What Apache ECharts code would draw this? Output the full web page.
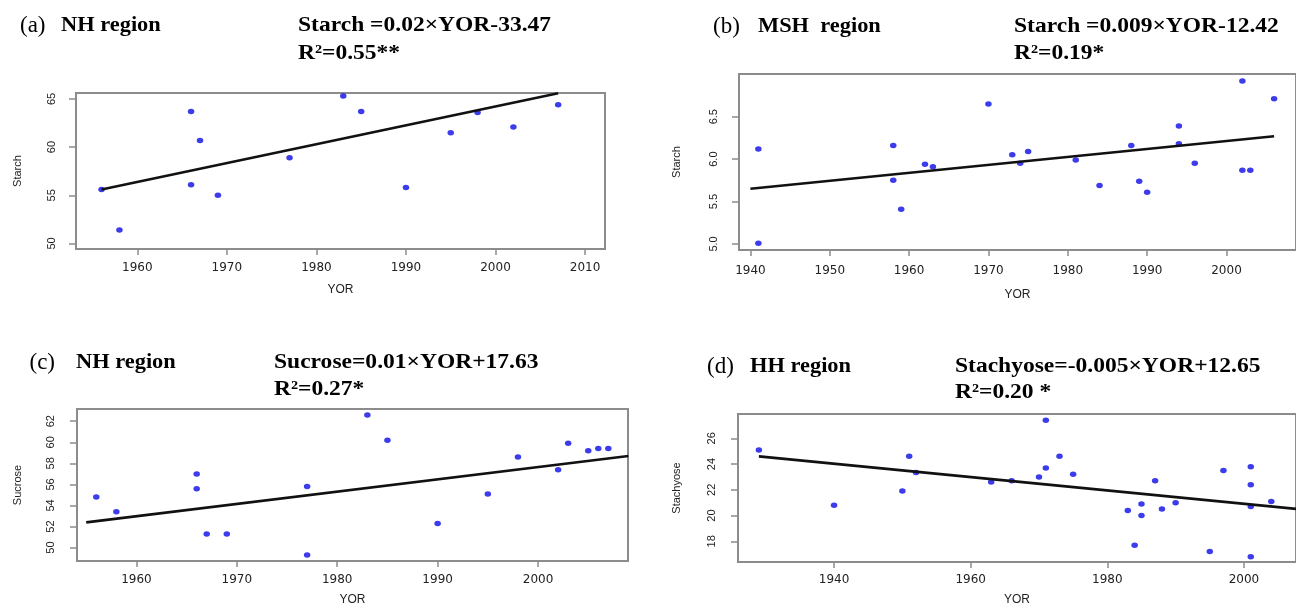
<!DOCTYPE html>
<html><head><meta charset="utf-8">
<script src="https://cdn.jsdelivr.net/npm/echarts@6/dist/echarts.min.js"></script>
<style>html,body{margin:0;padding:0;background:#fff}#c{width:1296px;height:607px}</style>
</head><body><div id="c"></div>
<script>
// ---- data ----
const yorA = [1956,1958,1966,1966,1967,1969,1977,1983,1985,1990,1995,1998,2002,2007];
const starchA = [55.6,51.4,63.7,56.1,60.7,55.0,58.9,65.3,63.7,55.8,61.5,63.6,62.1,64.4];
const trendA = [[1956,55.6],[2007,65.6]];

const yorB = [1941,1941,1958,1958,1959,1962,1963,1970,1973,1974,1975,1981,1984,1988,1989,1990,1994,1994,1996,2002,2002,2003,2006];
const starchB = [6.12,5.01,6.16,5.75,5.41,5.94,5.91,6.65,6.05,5.95,6.09,5.99,5.69,6.16,5.74,5.61,6.39,6.18,5.95,6.92,5.87,5.87,6.71];
const trendB = [[1940,5.65],[2006,6.27]];

const yorC = [1956,1958,1966,1966,1967,1969,1977,1977,1983,1985,1990,1995,1998,2002,2003,2005,2006,2007];
const sucroseC = [54.8,53.4,57.0,55.6,51.3,51.3,55.8,49.3,62.6,60.2,52.3,55.1,58.6,57.4,59.9,59.2,59.4,59.4];
const trendC = [[1955,52.4],[2009,58.7]];

const yorD = [1929,1940,1950,1951,1952,1963,1966,1970,1971,1971,1973,1975,1983,1984,1985,1985,1987,1988,1990,1995,1997,2001,2001,2001,2001,2004];
const stachD = [25.1,20.8,21.9,24.6,23.35,22.6,22.7,23.0,27.4,23.7,24.6,23.2,20.4,17.7,20.9,20.0,22.7,20.5,21.0,17.2,23.5,23.8,22.4,20.7,16.8,21.1];
const trendD = [[1929,24.6],[2008,20.5]];

// tick labels
const xTicksA = [1960,1970,1980,1990,2000,2010];
const yTicksA = [50,55,60,65];
const xTicksB = [1940,1950,1960,1970,1980,1990,2000];
const yTicksB = [5.0,5.5,6.0,6.5];
const xTicksC = [1960,1970,1980,1990,2000];
const yTicksC = [50,52,54,56,58,60,62];
const xTicksD = [1940,1960,1980,2000];
const yTicksD = [18,20,22,24,26];

// text
const panelLetters = ['(a)','(b)','(c)','(d)'];
const regionNames = ['NH region','MSH  region','NH region','HH region'];
const equations = ['Starch =0.02×YOR-33.47','Starch =0.009×YOR-12.42','Sucrose=0.01×YOR+17.63','Stachyose=-0.005×YOR+12.65'];
const r2Labels = ['R²=0.55**','R²=0.19*','R²=0.27*','R²=0.20 *'];
const yNames = ['Starch','Starch','Sucrose','Stachyose'];
const xName = 'YOR';

// ---- layout ----
const panels = [
  {xs:yorA, ys:starchA, trend:trendA, xt:xTicksA, yt:yTicksA, grid:{left:76,top:93,width:529,height:156},
   xr:[1953.15,2012.23], yr:[49.42,65.62], xm:13, ym:19, xg:35, yg:53, fmt:v=>String(v),
   t:{lx:20, rx:61, ex:298, y:26, r2y:53.5}},
  {xs:yorB, ys:starchB, trend:trendB, xt:xTicksB, yt:yTicksB, grid:{left:739,top:74,width:571,height:176},
   xr:[1938.56,2008.76], yr:[4.929,7.003], xm:15, ym:20, xg:39, yg:57, fmt:v=>v.toFixed(1),
   t:{lx:713, rx:758, ex:1014, y:26.5, r2y:53.5}},
  {xs:yorC, ys:sucroseC, trend:trendC, xt:xTicksC, yt:yTicksC, grid:{left:77,top:409,width:551,height:154},
   xr:[1954.08,2008.96], yr:[48.73,63.16], xm:13, ym:21, xg:33, yg:54, fmt:v=>String(v),
   t:{lx:29.5, rx:76, ex:274, y:363, r2y:389.5}},
  {xs:yorD, ys:stachD, trend:trendD, xt:xTicksD, yt:yTicksD, grid:{left:738,top:414,width:572,height:148},
   xr:[1925.94,2007.62], yr:[16.39,27.89], xm:12, ym:21, xg:32, yg:56, fmt:v=>String(v),
   t:{lx:707, rx:750, ex:955, y:367, r2y:393}}
];

const BORDER = '#8c8c8c';
const grids=[], xAxes=[], yAxes=[], series=[], graphics=[];
panels.forEach((p,i)=>{
  grids.push(Object.assign({show:true, borderColor:BORDER, borderWidth:2, backgroundColor:'#fff'}, p.grid));
  xAxes.push({type:'value', gridIndex:i, min:p.xr[0], max:p.xr[1],
    axisLine:{show:false}, splitLine:{show:false},
    axisTick:{show:true, length:6, customValues:p.xt, lineStyle:{color:BORDER,width:1.5}},
    axisLabel:{customValues:p.xt, margin:p.xm, formatter:v=>String(v), fontFamily:'DejaVu Sans', fontSize:12, color:'#222'},
    name:xName, nameLocation:'middle', nameGap:p.xg,
    nameTextStyle:{fontFamily:'Liberation Sans', fontSize:12, color:'#222'}});
  yAxes.push({type:'value', gridIndex:i, min:p.yr[0], max:p.yr[1],
    axisLine:{show:false}, splitLine:{show:false},
    axisTick:{show:true, length:7, customValues:p.yt, lineStyle:{color:BORDER,width:1.5}},
    axisLabel:{customValues:p.yt, rotate:90, margin:p.ym, formatter:p.fmt, fontFamily:'Liberation Sans', fontSize:11, color:'#222'},
    name:yNames[i], nameLocation:'middle', nameGap:p.yg, nameRotate:90,
    nameTextStyle:{fontFamily:'Liberation Sans', fontSize:11, color:'#222'}});
  series.push({type:'scatter', xAxisIndex:i, yAxisIndex:i, silent:true,
    data:p.xs.map((x,k)=>[x,p.ys[k]]), symbol:'circle', symbolSize:[6.5,5.5],
    itemStyle:{color:'#0b0be6'}});
  series.push({type:'line', xAxisIndex:i, yAxisIndex:i, silent:true, clip:true,
    data:p.trend, showSymbol:false, symbol:'none', lineStyle:{color:'#111',width:2.6}});
  const sx = 1.12;
  graphics.push({type:'text', x:p.t.lx, y:p.t.y, silent:true,
    style:{text:panelLetters[i], fontFamily:'Liberation Serif', fontSize:23, fill:'#000', verticalAlign:'middle', align:'left'}});
  graphics.push({type:'text', x:p.t.rx, y:p.t.y, scaleX:sx, silent:true,
    style:{text:regionNames[i], fontFamily:'Liberation Serif', fontWeight:'bold', fontSize:20, fill:'#000', verticalAlign:'middle', align:'left'}});
  graphics.push({type:'text', x:p.t.ex, y:p.t.y, scaleX:sx, silent:true,
    style:{text:equations[i], fontFamily:'Liberation Serif', fontWeight:'bold', fontSize:21, fill:'#000', verticalAlign:'middle', align:'left'}});
  graphics.push({type:'text', x:p.t.ex, y:p.t.r2y, scaleX:sx, silent:true,
    style:{text:r2Labels[i], fontFamily:'Liberation Serif', fontWeight:'bold', fontSize:21, fill:'#000', verticalAlign:'middle', align:'left'}});
});

const chart = echarts.init(document.getElementById('c'), null, {renderer:'canvas'});
chart.setOption({animation:false, backgroundColor:'#fff', grid:grids, xAxis:xAxes, yAxis:yAxes, series:series, graphic:graphics});
</script>
</body></html>
